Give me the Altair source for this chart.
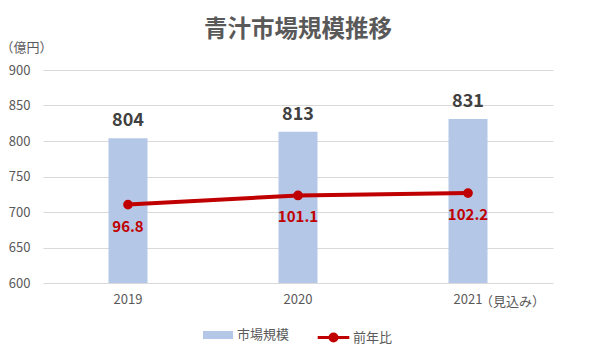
import altair as alt
import pandas as pd

years = ["2019", "2020", "2021"]
market = [804, 813, 831]
yoy = [96.8, 101.1, 102.2]
bar_series = ["市場規模"] * 3
line_series = ["前年比"] * 3

df = pd.DataFrame({"year": years, "market": market, "yoy": yoy,
                   "s1": bar_series, "s2": line_series})
note_df = pd.DataFrame({"year": ["2021"], "note": ["（見込み）"]})

FONT = "Noto Sans CJK JP"
GRAY = "#595959"

x = alt.X("year:N", scale=alt.Scale(paddingInner=0, paddingOuter=0),
          axis=alt.Axis(title=None, labelAngle=0, domain=False, ticks=False,
                        labelPadding=10, labelFontSize=13, labelColor=GRAY,
                        labelFont=FONT))

yL = alt.Y("market:Q", scale=alt.Scale(domain=[600, 900], nice=False, zero=False),
           axis=alt.Axis(title="（億円）", titleAngle=0, titleX=-17, titleY=-23,
                         titleAlign="center", titleBaseline="middle",
                         titleFontSize=13, titleFontWeight="normal", titleColor=GRAY,
                         titleFont=FONT,
                         values=[600, 650, 700, 750, 800, 850, 900],
                         domain=False, ticks=False, labelPadding=13,
                         labelFontSize=13, labelColor=GRAY, labelFont=FONT,
                         grid=True, gridColor="#d9d9d9"))

yR = alt.Y("yoy:Q", scale=alt.Scale(domain=[60, 160], nice=False, zero=False),
           axis=alt.Axis(title="(%)", orient="right", titleAngle=0, titleX=11,
                         titleY=-23, titleAlign="center", titleBaseline="middle",
                         titleFontSize=13, titleFontWeight="normal", titleColor=GRAY,
                         titleFont=FONT,
                         values=list(range(60, 161, 10)), domain=False, ticks=False,
                         labelPadding=4, labelFontSize=13, labelColor=GRAY,
                         labelFont=FONT, grid=False))

bars = alt.Chart(df).mark_bar(size=39, clip=True).encode(
    x=x, y=yL,
    fill=alt.Fill("s1:N", scale=alt.Scale(range=["#b4c7e7"]),
                  legend=alt.Legend(title=None, orient="none", legendX=160,
                                    legendY=250,
                                    symbolType="M-1,-0.27H1V0.27H-1Z",
                                    symbolSize=900, symbolStrokeWidth=0,
                                    labelFontSize=13, labelColor=GRAY,
                                    labelFont=FONT, labelOffset=4)))
bar_text = alt.Chart(df).mark_text(baseline="bottom", dy=-8, fontSize=18,
                                   fontWeight="bold", color="#404040",
                                   font=FONT).encode(x=x, y=yL, text="market:Q")

line = alt.Chart(df).mark_line(color="#c00000", strokeWidth=4,
                               point=alt.OverlayMarkDef(filled=True, size=60,
                                                        color="#c00000")).encode(
    x=x, y=yR,
    stroke=alt.Stroke("s2:N", scale=alt.Scale(range=["#c00000"]),
                      legend=alt.Legend(title=None, orient="none", legendX=273,
                                        legendY=250,
                                        symbolType="M-1,0H1M-0.22,0A0.22,0.22 0 1,0 0.22,0A0.22,0.22 0 1,0 -0.22,0",
                                        symbolSize=1000, symbolStrokeWidth=3,
                                        symbolFillColor="#c00000",
                                        labelFontSize=13, labelColor=GRAY,
                                        labelFont=FONT, labelOffset=2)))
line_text = alt.Chart(df).mark_text(baseline="middle", dy=22, fontSize=15,
                                    fontWeight="bold", color="#c00000",
                                    font=FONT).encode(
    x=x, y=alt.Y("yoy:Q", scale=alt.Scale(domain=[60, 160], nice=False, zero=False),
                 axis=None),
    text=alt.Text("yoy:Q", format=".1f"))

note = alt.Chart(note_df).mark_text(align="left", baseline="middle", dx=12,
                                    fontSize=13, color=GRAY, font=FONT).encode(
    x=x, y=alt.value(232), text="note:N")

left = alt.layer(bars, bar_text)
right = alt.layer(line, line_text)

chart = alt.layer(left, right, note).resolve_scale(y="independent").properties(
    width=510, height=213,
    autosize=alt.AutoSizeParams(type="none"),
    padding={"left": 43, "top": 70, "right": 45, "bottom": 69},
    title=alt.Title("青汁市場規模推移", fontSize=23.5, fontWeight="bold",
                    color=GRAY, font=FONT, anchor="middle", offset=0),
).configure_view(stroke=None)

chart.save("out.html", embed_options={"renderer": "svg", "actions": False})
